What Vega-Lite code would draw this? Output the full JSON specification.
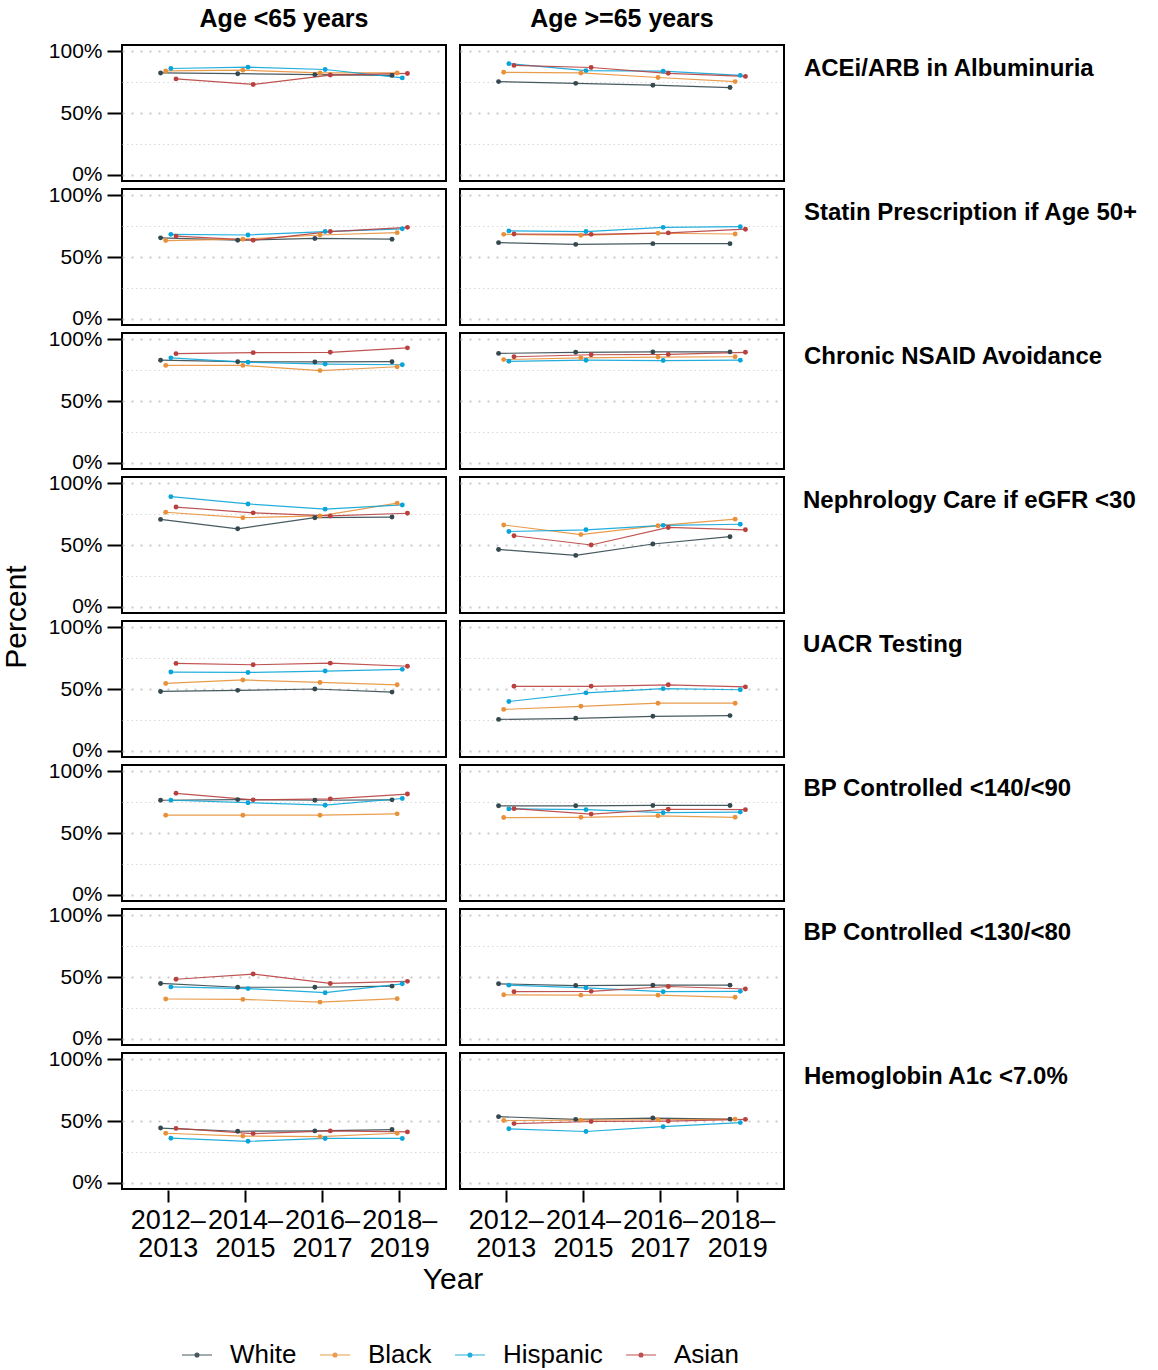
{
  "$schema": "https://vega.github.io/schema/vega-lite/v6.json",
  "padding": {"left": 2, "top": 7, "right": 0, "bottom": 0},
  "background": "white",
  "config": {
    "font": "Liberation Sans",
    "view": {"stroke": "black", "strokeWidth": 2},
    "axis": {"labelColor": "black", "titleColor": "black", "titleFontWeight": "normal"}
  },
  "data": {"values": [
{"measure":"ACEi/ARB in Albuminuria","age":"Age <65 years","race":"White","period":"2012–2013","pct":82.4},
{"measure":"ACEi/ARB in Albuminuria","age":"Age <65 years","race":"White","period":"2014–2015","pct":81.8},
{"measure":"ACEi/ARB in Albuminuria","age":"Age <65 years","race":"White","period":"2016–2017","pct":81.0},
{"measure":"ACEi/ARB in Albuminuria","age":"Age <65 years","race":"White","period":"2018–2019","pct":80.4},
{"measure":"ACEi/ARB in Albuminuria","age":"Age <65 years","race":"Black","period":"2012–2013","pct":84.0},
{"measure":"ACEi/ARB in Albuminuria","age":"Age <65 years","race":"Black","period":"2014–2015","pct":84.6},
{"measure":"ACEi/ARB in Albuminuria","age":"Age <65 years","race":"Black","period":"2016–2017","pct":82.4},
{"measure":"ACEi/ARB in Albuminuria","age":"Age <65 years","race":"Black","period":"2018–2019","pct":82.4},
{"measure":"ACEi/ARB in Albuminuria","age":"Age <65 years","race":"Hispanic","period":"2012–2013","pct":86.0},
{"measure":"ACEi/ARB in Albuminuria","age":"Age <65 years","race":"Hispanic","period":"2014–2015","pct":87.1},
{"measure":"ACEi/ARB in Albuminuria","age":"Age <65 years","race":"Hispanic","period":"2016–2017","pct":85.2},
{"measure":"ACEi/ARB in Albuminuria","age":"Age <65 years","race":"Hispanic","period":"2018–2019","pct":78.4},
{"measure":"ACEi/ARB in Albuminuria","age":"Age <65 years","race":"Asian","period":"2012–2013","pct":77.6},
{"measure":"ACEi/ARB in Albuminuria","age":"Age <65 years","race":"Asian","period":"2014–2015","pct":73.1},
{"measure":"ACEi/ARB in Albuminuria","age":"Age <65 years","race":"Asian","period":"2016–2017","pct":80.7},
{"measure":"ACEi/ARB in Albuminuria","age":"Age <65 years","race":"Asian","period":"2018–2019","pct":82.0},
{"measure":"ACEi/ARB in Albuminuria","age":"Age >=65 years","race":"White","period":"2012–2013","pct":75.4},
{"measure":"ACEi/ARB in Albuminuria","age":"Age >=65 years","race":"White","period":"2014–2015","pct":74.0},
{"measure":"ACEi/ARB in Albuminuria","age":"Age >=65 years","race":"White","period":"2016–2017","pct":72.5},
{"measure":"ACEi/ARB in Albuminuria","age":"Age >=65 years","race":"White","period":"2018–2019","pct":70.6},
{"measure":"ACEi/ARB in Albuminuria","age":"Age >=65 years","race":"Black","period":"2012–2013","pct":82.9},
{"measure":"ACEi/ARB in Albuminuria","age":"Age >=65 years","race":"Black","period":"2014–2015","pct":82.4},
{"measure":"ACEi/ARB in Albuminuria","age":"Age >=65 years","race":"Black","period":"2016–2017","pct":78.7},
{"measure":"ACEi/ARB in Albuminuria","age":"Age >=65 years","race":"Black","period":"2018–2019","pct":75.4},
{"measure":"ACEi/ARB in Albuminuria","age":"Age >=65 years","race":"Hispanic","period":"2012–2013","pct":89.9},
{"measure":"ACEi/ARB in Albuminuria","age":"Age >=65 years","race":"Hispanic","period":"2014–2015","pct":84.3},
{"measure":"ACEi/ARB in Albuminuria","age":"Age >=65 years","race":"Hispanic","period":"2016–2017","pct":83.8},
{"measure":"ACEi/ARB in Albuminuria","age":"Age >=65 years","race":"Hispanic","period":"2018–2019","pct":80.4},
{"measure":"ACEi/ARB in Albuminuria","age":"Age >=65 years","race":"Asian","period":"2012–2013","pct":88.5},
{"measure":"ACEi/ARB in Albuminuria","age":"Age >=65 years","race":"Asian","period":"2014–2015","pct":86.8},
{"measure":"ACEi/ARB in Albuminuria","age":"Age >=65 years","race":"Asian","period":"2016–2017","pct":82.1},
{"measure":"ACEi/ARB in Albuminuria","age":"Age >=65 years","race":"Asian","period":"2018–2019","pct":79.6},
{"measure":"Statin Prescription if Age 50+","age":"Age <65 years","race":"White","period":"2012–2013","pct":65.5},
{"measure":"Statin Prescription if Age 50+","age":"Age <65 years","race":"White","period":"2014–2015","pct":63.6},
{"measure":"Statin Prescription if Age 50+","age":"Age <65 years","race":"White","period":"2016–2017","pct":65.0},
{"measure":"Statin Prescription if Age 50+","age":"Age <65 years","race":"White","period":"2018–2019","pct":64.4},
{"measure":"Statin Prescription if Age 50+","age":"Age <65 years","race":"Black","period":"2012–2013","pct":63.3},
{"measure":"Statin Prescription if Age 50+","age":"Age <65 years","race":"Black","period":"2014–2015","pct":64.4},
{"measure":"Statin Prescription if Age 50+","age":"Age <65 years","race":"Black","period":"2016–2017","pct":67.8},
{"measure":"Statin Prescription if Age 50+","age":"Age <65 years","race":"Black","period":"2018–2019","pct":69.7},
{"measure":"Statin Prescription if Age 50+","age":"Age <65 years","race":"Hispanic","period":"2012–2013","pct":68.3},
{"measure":"Statin Prescription if Age 50+","age":"Age <65 years","race":"Hispanic","period":"2014–2015","pct":67.8},
{"measure":"Statin Prescription if Age 50+","age":"Age <65 years","race":"Hispanic","period":"2016–2017","pct":70.6},
{"measure":"Statin Prescription if Age 50+","age":"Age <65 years","race":"Hispanic","period":"2018–2019","pct":72.8},
{"measure":"Statin Prescription if Age 50+","age":"Age <65 years","race":"Asian","period":"2012–2013","pct":66.9},
{"measure":"Statin Prescription if Age 50+","age":"Age <65 years","race":"Asian","period":"2014–2015","pct":63.6},
{"measure":"Statin Prescription if Age 50+","age":"Age <65 years","race":"Asian","period":"2016–2017","pct":70.6},
{"measure":"Statin Prescription if Age 50+","age":"Age <65 years","race":"Asian","period":"2018–2019","pct":74.0},
{"measure":"Statin Prescription if Age 50+","age":"Age >=65 years","race":"White","period":"2012–2013","pct":61.6},
{"measure":"Statin Prescription if Age 50+","age":"Age >=65 years","race":"White","period":"2014–2015","pct":60.2},
{"measure":"Statin Prescription if Age 50+","age":"Age >=65 years","race":"White","period":"2016–2017","pct":60.8},
{"measure":"Statin Prescription if Age 50+","age":"Age >=65 years","race":"White","period":"2018–2019","pct":60.8},
{"measure":"Statin Prescription if Age 50+","age":"Age >=65 years","race":"Black","period":"2012–2013","pct":68.3},
{"measure":"Statin Prescription if Age 50+","age":"Age >=65 years","race":"Black","period":"2014–2015","pct":67.5},
{"measure":"Statin Prescription if Age 50+","age":"Age >=65 years","race":"Black","period":"2016–2017","pct":69.2},
{"measure":"Statin Prescription if Age 50+","age":"Age >=65 years","race":"Black","period":"2018–2019","pct":68.6},
{"measure":"Statin Prescription if Age 50+","age":"Age >=65 years","race":"Hispanic","period":"2012–2013","pct":71.1},
{"measure":"Statin Prescription if Age 50+","age":"Age >=65 years","race":"Hispanic","period":"2014–2015","pct":70.6},
{"measure":"Statin Prescription if Age 50+","age":"Age >=65 years","race":"Hispanic","period":"2016–2017","pct":74.0},
{"measure":"Statin Prescription if Age 50+","age":"Age >=65 years","race":"Hispanic","period":"2018–2019","pct":74.5},
{"measure":"Statin Prescription if Age 50+","age":"Age >=65 years","race":"Asian","period":"2012–2013","pct":68.6},
{"measure":"Statin Prescription if Age 50+","age":"Age >=65 years","race":"Asian","period":"2014–2015","pct":68.3},
{"measure":"Statin Prescription if Age 50+","age":"Age >=65 years","race":"Asian","period":"2016–2017","pct":69.5},
{"measure":"Statin Prescription if Age 50+","age":"Age >=65 years","race":"Asian","period":"2018–2019","pct":72.5},
{"measure":"Chronic NSAID Avoidance","age":"Age <65 years","race":"White","period":"2012–2013","pct":83.0},
{"measure":"Chronic NSAID Avoidance","age":"Age <65 years","race":"White","period":"2014–2015","pct":81.8},
{"measure":"Chronic NSAID Avoidance","age":"Age <65 years","race":"White","period":"2016–2017","pct":81.6},
{"measure":"Chronic NSAID Avoidance","age":"Age <65 years","race":"White","period":"2018–2019","pct":81.8},
{"measure":"Chronic NSAID Avoidance","age":"Age <65 years","race":"Black","period":"2012–2013","pct":78.8},
{"measure":"Chronic NSAID Avoidance","age":"Age <65 years","race":"Black","period":"2014–2015","pct":78.8},
{"measure":"Chronic NSAID Avoidance","age":"Age <65 years","race":"Black","period":"2016–2017","pct":74.6},
{"measure":"Chronic NSAID Avoidance","age":"Age <65 years","race":"Black","period":"2018–2019","pct":77.7},
{"measure":"Chronic NSAID Avoidance","age":"Age <65 years","race":"Hispanic","period":"2012–2013","pct":84.9},
{"measure":"Chronic NSAID Avoidance","age":"Age <65 years","race":"Hispanic","period":"2014–2015","pct":81.3},
{"measure":"Chronic NSAID Avoidance","age":"Age <65 years","race":"Hispanic","period":"2016–2017","pct":79.9},
{"measure":"Chronic NSAID Avoidance","age":"Age <65 years","race":"Hispanic","period":"2018–2019","pct":79.3},
{"measure":"Chronic NSAID Avoidance","age":"Age <65 years","race":"Asian","period":"2012–2013","pct":88.3},
{"measure":"Chronic NSAID Avoidance","age":"Age <65 years","race":"Asian","period":"2014–2015","pct":89.1},
{"measure":"Chronic NSAID Avoidance","age":"Age <65 years","race":"Asian","period":"2016–2017","pct":89.4},
{"measure":"Chronic NSAID Avoidance","age":"Age <65 years","race":"Asian","period":"2018–2019","pct":93.0},
{"measure":"Chronic NSAID Avoidance","age":"Age >=65 years","race":"White","period":"2012–2013","pct":88.5},
{"measure":"Chronic NSAID Avoidance","age":"Age >=65 years","race":"White","period":"2014–2015","pct":89.4},
{"measure":"Chronic NSAID Avoidance","age":"Age >=65 years","race":"White","period":"2016–2017","pct":89.7},
{"measure":"Chronic NSAID Avoidance","age":"Age >=65 years","race":"White","period":"2018–2019","pct":89.7},
{"measure":"Chronic NSAID Avoidance","age":"Age >=65 years","race":"Black","period":"2012–2013","pct":83.5},
{"measure":"Chronic NSAID Avoidance","age":"Age >=65 years","race":"Black","period":"2014–2015","pct":84.9},
{"measure":"Chronic NSAID Avoidance","age":"Age >=65 years","race":"Black","period":"2016–2017","pct":85.5},
{"measure":"Chronic NSAID Avoidance","age":"Age >=65 years","race":"Black","period":"2018–2019","pct":85.8},
{"measure":"Chronic NSAID Avoidance","age":"Age >=65 years","race":"Hispanic","period":"2012–2013","pct":82.1},
{"measure":"Chronic NSAID Avoidance","age":"Age >=65 years","race":"Hispanic","period":"2014–2015","pct":83.0},
{"measure":"Chronic NSAID Avoidance","age":"Age >=65 years","race":"Hispanic","period":"2016–2017","pct":82.7},
{"measure":"Chronic NSAID Avoidance","age":"Age >=65 years","race":"Hispanic","period":"2018–2019","pct":83.0},
{"measure":"Chronic NSAID Avoidance","age":"Age >=65 years","race":"Asian","period":"2012–2013","pct":85.8},
{"measure":"Chronic NSAID Avoidance","age":"Age >=65 years","race":"Asian","period":"2014–2015","pct":87.4},
{"measure":"Chronic NSAID Avoidance","age":"Age >=65 years","race":"Asian","period":"2016–2017","pct":87.7},
{"measure":"Chronic NSAID Avoidance","age":"Age >=65 years","race":"Asian","period":"2018–2019","pct":89.4},
{"measure":"Nephrology Care if eGFR <30","age":"Age <65 years","race":"White","period":"2012–2013","pct":70.7},
{"measure":"Nephrology Care if eGFR <30","age":"Age <65 years","race":"White","period":"2014–2015","pct":63.1},
{"measure":"Nephrology Care if eGFR <30","age":"Age <65 years","race":"White","period":"2016–2017","pct":72.1},
{"measure":"Nephrology Care if eGFR <30","age":"Age <65 years","race":"White","period":"2018–2019","pct":72.6},
{"measure":"Nephrology Care if eGFR <30","age":"Age <65 years","race":"Black","period":"2012–2013","pct":76.5},
{"measure":"Nephrology Care if eGFR <30","age":"Age <65 years","race":"Black","period":"2014–2015","pct":72.1},
{"measure":"Nephrology Care if eGFR <30","age":"Age <65 years","race":"Black","period":"2016–2017","pct":73.5},
{"measure":"Nephrology Care if eGFR <30","age":"Age <65 years","race":"Black","period":"2018–2019","pct":83.8},
{"measure":"Nephrology Care if eGFR <30","age":"Age <65 years","race":"Hispanic","period":"2012–2013","pct":89.1},
{"measure":"Nephrology Care if eGFR <30","age":"Age <65 years","race":"Hispanic","period":"2014–2015","pct":83.2},
{"measure":"Nephrology Care if eGFR <30","age":"Age <65 years","race":"Hispanic","period":"2016–2017","pct":79.0},
{"measure":"Nephrology Care if eGFR <30","age":"Age <65 years","race":"Hispanic","period":"2018–2019","pct":82.4},
{"measure":"Nephrology Care if eGFR <30","age":"Age <65 years","race":"Asian","period":"2012–2013","pct":80.7},
{"measure":"Nephrology Care if eGFR <30","age":"Age <65 years","race":"Asian","period":"2014–2015","pct":76.0},
{"measure":"Nephrology Care if eGFR <30","age":"Age <65 years","race":"Asian","period":"2016–2017","pct":73.5},
{"measure":"Nephrology Care if eGFR <30","age":"Age <65 years","race":"Asian","period":"2018–2019","pct":75.7},
{"measure":"Nephrology Care if eGFR <30","age":"Age >=65 years","race":"White","period":"2012–2013","pct":46.4},
{"measure":"Nephrology Care if eGFR <30","age":"Age >=65 years","race":"White","period":"2014–2015","pct":41.6},
{"measure":"Nephrology Care if eGFR <30","age":"Age >=65 years","race":"White","period":"2016–2017","pct":50.8},
{"measure":"Nephrology Care if eGFR <30","age":"Age >=65 years","race":"White","period":"2018–2019","pct":56.7},
{"measure":"Nephrology Care if eGFR <30","age":"Age >=65 years","race":"Black","period":"2012–2013","pct":66.2},
{"measure":"Nephrology Care if eGFR <30","age":"Age >=65 years","race":"Black","period":"2014–2015","pct":58.4},
{"measure":"Nephrology Care if eGFR <30","age":"Age >=65 years","race":"Black","period":"2016–2017","pct":65.6},
{"measure":"Nephrology Care if eGFR <30","age":"Age >=65 years","race":"Black","period":"2018–2019","pct":70.9},
{"measure":"Nephrology Care if eGFR <30","age":"Age >=65 years","race":"Hispanic","period":"2012–2013","pct":60.9},
{"measure":"Nephrology Care if eGFR <30","age":"Age >=65 years","race":"Hispanic","period":"2014–2015","pct":62.3},
{"measure":"Nephrology Care if eGFR <30","age":"Age >=65 years","race":"Hispanic","period":"2016–2017","pct":65.9},
{"measure":"Nephrology Care if eGFR <30","age":"Age >=65 years","race":"Hispanic","period":"2018–2019","pct":66.8},
{"measure":"Nephrology Care if eGFR <30","age":"Age >=65 years","race":"Asian","period":"2012–2013","pct":57.5},
{"measure":"Nephrology Care if eGFR <30","age":"Age >=65 years","race":"Asian","period":"2014–2015","pct":50.0},
{"measure":"Nephrology Care if eGFR <30","age":"Age >=65 years","race":"Asian","period":"2016–2017","pct":64.2},
{"measure":"Nephrology Care if eGFR <30","age":"Age >=65 years","race":"Asian","period":"2018–2019","pct":62.3},
{"measure":"UACR Testing","age":"Age <65 years","race":"White","period":"2012–2013","pct":48.0},
{"measure":"UACR Testing","age":"Age <65 years","race":"White","period":"2014–2015","pct":48.9},
{"measure":"UACR Testing","age":"Age <65 years","race":"White","period":"2016–2017","pct":50.0},
{"measure":"UACR Testing","age":"Age <65 years","race":"White","period":"2018–2019","pct":47.5},
{"measure":"UACR Testing","age":"Age <65 years","race":"Black","period":"2012–2013","pct":54.5},
{"measure":"UACR Testing","age":"Age <65 years","race":"Black","period":"2014–2015","pct":57.3},
{"measure":"UACR Testing","age":"Age <65 years","race":"Black","period":"2016–2017","pct":55.3},
{"measure":"UACR Testing","age":"Age <65 years","race":"Black","period":"2018–2019","pct":53.4},
{"measure":"UACR Testing","age":"Age <65 years","race":"Hispanic","period":"2012–2013","pct":63.7},
{"measure":"UACR Testing","age":"Age <65 years","race":"Hispanic","period":"2014–2015","pct":63.4},
{"measure":"UACR Testing","age":"Age <65 years","race":"Hispanic","period":"2016–2017","pct":64.5},
{"measure":"UACR Testing","age":"Age <65 years","race":"Hispanic","period":"2018–2019","pct":65.9},
{"measure":"UACR Testing","age":"Age <65 years","race":"Asian","period":"2012–2013","pct":70.7},
{"measure":"UACR Testing","age":"Age <65 years","race":"Asian","period":"2014–2015","pct":69.6},
{"measure":"UACR Testing","age":"Age <65 years","race":"Asian","period":"2016–2017","pct":70.9},
{"measure":"UACR Testing","age":"Age <65 years","race":"Asian","period":"2018–2019","pct":68.4},
{"measure":"UACR Testing","age":"Age >=65 years","race":"White","period":"2012–2013","pct":25.4},
{"measure":"UACR Testing","age":"Age >=65 years","race":"White","period":"2014–2015","pct":26.3},
{"measure":"UACR Testing","age":"Age >=65 years","race":"White","period":"2016–2017","pct":27.9},
{"measure":"UACR Testing","age":"Age >=65 years","race":"White","period":"2018–2019","pct":28.5},
{"measure":"UACR Testing","age":"Age >=65 years","race":"Black","period":"2012–2013","pct":33.5},
{"measure":"UACR Testing","age":"Age >=65 years","race":"Black","period":"2014–2015","pct":36.0},
{"measure":"UACR Testing","age":"Age >=65 years","race":"Black","period":"2016–2017","pct":38.5},
{"measure":"UACR Testing","age":"Age >=65 years","race":"Black","period":"2018–2019","pct":38.5},
{"measure":"UACR Testing","age":"Age >=65 years","race":"Hispanic","period":"2012–2013","pct":39.9},
{"measure":"UACR Testing","age":"Age >=65 years","race":"Hispanic","period":"2014–2015","pct":46.9},
{"measure":"UACR Testing","age":"Age >=65 years","race":"Hispanic","period":"2016–2017","pct":50.3},
{"measure":"UACR Testing","age":"Age >=65 years","race":"Hispanic","period":"2018–2019","pct":49.4},
{"measure":"UACR Testing","age":"Age >=65 years","race":"Asian","period":"2012–2013","pct":52.2},
{"measure":"UACR Testing","age":"Age >=65 years","race":"Asian","period":"2014–2015","pct":52.2},
{"measure":"UACR Testing","age":"Age >=65 years","race":"Asian","period":"2016–2017","pct":53.4},
{"measure":"UACR Testing","age":"Age >=65 years","race":"Asian","period":"2018–2019","pct":51.7},
{"measure":"BP Controlled <140/<90","age":"Age <65 years","race":"White","period":"2012–2013","pct":76.5},
{"measure":"BP Controlled <140/<90","age":"Age <65 years","race":"White","period":"2014–2015","pct":77.0},
{"measure":"BP Controlled <140/<90","age":"Age <65 years","race":"White","period":"2016–2017","pct":76.5},
{"measure":"BP Controlled <140/<90","age":"Age <65 years","race":"White","period":"2018–2019","pct":76.8},
{"measure":"BP Controlled <140/<90","age":"Age <65 years","race":"Black","period":"2012–2013","pct":64.4},
{"measure":"BP Controlled <140/<90","age":"Age <65 years","race":"Black","period":"2014–2015","pct":64.4},
{"measure":"BP Controlled <140/<90","age":"Age <65 years","race":"Black","period":"2016–2017","pct":64.4},
{"measure":"BP Controlled <140/<90","age":"Age <65 years","race":"Black","period":"2018–2019","pct":65.5},
{"measure":"BP Controlled <140/<90","age":"Age <65 years","race":"Hispanic","period":"2012–2013","pct":76.5},
{"measure":"BP Controlled <140/<90","age":"Age <65 years","race":"Hispanic","period":"2014–2015","pct":74.5},
{"measure":"BP Controlled <140/<90","age":"Age <65 years","race":"Hispanic","period":"2016–2017","pct":72.5},
{"measure":"BP Controlled <140/<90","age":"Age <65 years","race":"Hispanic","period":"2018–2019","pct":77.9},
{"measure":"BP Controlled <140/<90","age":"Age <65 years","race":"Asian","period":"2012–2013","pct":82.1},
{"measure":"BP Controlled <140/<90","age":"Age <65 years","race":"Asian","period":"2014–2015","pct":76.8},
{"measure":"BP Controlled <140/<90","age":"Age <65 years","race":"Asian","period":"2016–2017","pct":77.6},
{"measure":"BP Controlled <140/<90","age":"Age <65 years","race":"Asian","period":"2018–2019","pct":81.5},
{"measure":"BP Controlled <140/<90","age":"Age >=65 years","race":"White","period":"2012–2013","pct":72.0},
{"measure":"BP Controlled <140/<90","age":"Age >=65 years","race":"White","period":"2014–2015","pct":72.0},
{"measure":"BP Controlled <140/<90","age":"Age >=65 years","race":"White","period":"2016–2017","pct":72.3},
{"measure":"BP Controlled <140/<90","age":"Age >=65 years","race":"White","period":"2018–2019","pct":72.3},
{"measure":"BP Controlled <140/<90","age":"Age >=65 years","race":"Black","period":"2012–2013","pct":62.5},
{"measure":"BP Controlled <140/<90","age":"Age >=65 years","race":"Black","period":"2014–2015","pct":62.7},
{"measure":"BP Controlled <140/<90","age":"Age >=65 years","race":"Black","period":"2016–2017","pct":63.9},
{"measure":"BP Controlled <140/<90","age":"Age >=65 years","race":"Black","period":"2018–2019","pct":62.7},
{"measure":"BP Controlled <140/<90","age":"Age >=65 years","race":"Hispanic","period":"2012–2013","pct":69.5},
{"measure":"BP Controlled <140/<90","age":"Age >=65 years","race":"Hispanic","period":"2014–2015","pct":68.9},
{"measure":"BP Controlled <140/<90","age":"Age >=65 years","race":"Hispanic","period":"2016–2017","pct":66.4},
{"measure":"BP Controlled <140/<90","age":"Age >=65 years","race":"Hispanic","period":"2018–2019","pct":66.9},
{"measure":"BP Controlled <140/<90","age":"Age >=65 years","race":"Asian","period":"2012–2013","pct":69.7},
{"measure":"BP Controlled <140/<90","age":"Age >=65 years","race":"Asian","period":"2014–2015","pct":65.3},
{"measure":"BP Controlled <140/<90","age":"Age >=65 years","race":"Asian","period":"2016–2017","pct":69.2},
{"measure":"BP Controlled <140/<90","age":"Age >=65 years","race":"Asian","period":"2018–2019","pct":68.9},
{"measure":"BP Controlled <130/<80","age":"Age <65 years","race":"White","period":"2012–2013","pct":44.8},
{"measure":"BP Controlled <130/<80","age":"Age <65 years","race":"White","period":"2014–2015","pct":41.7},
{"measure":"BP Controlled <130/<80","age":"Age <65 years","race":"White","period":"2016–2017","pct":41.7},
{"measure":"BP Controlled <130/<80","age":"Age <65 years","race":"White","period":"2018–2019","pct":42.6},
{"measure":"BP Controlled <130/<80","age":"Age <65 years","race":"Black","period":"2012–2013","pct":32.2},
{"measure":"BP Controlled <130/<80","age":"Age <65 years","race":"Black","period":"2014–2015","pct":31.9},
{"measure":"BP Controlled <130/<80","age":"Age <65 years","race":"Black","period":"2016–2017","pct":29.7},
{"measure":"BP Controlled <130/<80","age":"Age <65 years","race":"Black","period":"2018–2019","pct":32.5},
{"measure":"BP Controlled <130/<80","age":"Age <65 years","race":"Hispanic","period":"2012–2013","pct":42.0},
{"measure":"BP Controlled <130/<80","age":"Age <65 years","race":"Hispanic","period":"2014–2015","pct":40.6},
{"measure":"BP Controlled <130/<80","age":"Age <65 years","race":"Hispanic","period":"2016–2017","pct":37.3},
{"measure":"BP Controlled <130/<80","age":"Age <65 years","race":"Hispanic","period":"2018–2019","pct":44.5},
{"measure":"BP Controlled <130/<80","age":"Age <65 years","race":"Asian","period":"2012–2013","pct":48.2},
{"measure":"BP Controlled <130/<80","age":"Age <65 years","race":"Asian","period":"2014–2015","pct":52.4},
{"measure":"BP Controlled <130/<80","age":"Age <65 years","race":"Asian","period":"2016–2017","pct":44.8},
{"measure":"BP Controlled <130/<80","age":"Age <65 years","race":"Asian","period":"2018–2019","pct":46.5},
{"measure":"BP Controlled <130/<80","age":"Age >=65 years","race":"White","period":"2012–2013","pct":44.5},
{"measure":"BP Controlled <130/<80","age":"Age >=65 years","race":"White","period":"2014–2015","pct":43.1},
{"measure":"BP Controlled <130/<80","age":"Age >=65 years","race":"White","period":"2016–2017","pct":43.4},
{"measure":"BP Controlled <130/<80","age":"Age >=65 years","race":"White","period":"2018–2019","pct":43.4},
{"measure":"BP Controlled <130/<80","age":"Age >=65 years","race":"Black","period":"2012–2013","pct":35.6},
{"measure":"BP Controlled <130/<80","age":"Age >=65 years","race":"Black","period":"2014–2015","pct":35.3},
{"measure":"BP Controlled <130/<80","age":"Age >=65 years","race":"Black","period":"2016–2017","pct":35.3},
{"measure":"BP Controlled <130/<80","age":"Age >=65 years","race":"Black","period":"2018–2019","pct":33.6},
{"measure":"BP Controlled <130/<80","age":"Age >=65 years","race":"Hispanic","period":"2012–2013","pct":43.4},
{"measure":"BP Controlled <130/<80","age":"Age >=65 years","race":"Hispanic","period":"2014–2015","pct":41.2},
{"measure":"BP Controlled <130/<80","age":"Age >=65 years","race":"Hispanic","period":"2016–2017","pct":38.1},
{"measure":"BP Controlled <130/<80","age":"Age >=65 years","race":"Hispanic","period":"2018–2019","pct":38.4},
{"measure":"BP Controlled <130/<80","age":"Age >=65 years","race":"Asian","period":"2012–2013","pct":38.1},
{"measure":"BP Controlled <130/<80","age":"Age >=65 years","race":"Asian","period":"2014–2015","pct":38.4},
{"measure":"BP Controlled <130/<80","age":"Age >=65 years","race":"Asian","period":"2016–2017","pct":42.3},
{"measure":"BP Controlled <130/<80","age":"Age >=65 years","race":"Asian","period":"2018–2019","pct":40.3},
{"measure":"Hemoglobin A1c <7.0%","age":"Age <65 years","race":"White","period":"2012–2013","pct":44.3},
{"measure":"Hemoglobin A1c <7.0%","age":"Age <65 years","race":"White","period":"2014–2015","pct":41.7},
{"measure":"Hemoglobin A1c <7.0%","age":"Age <65 years","race":"White","period":"2016–2017","pct":42.0},
{"measure":"Hemoglobin A1c <7.0%","age":"Age <65 years","race":"White","period":"2018–2019","pct":43.1},
{"measure":"Hemoglobin A1c <7.0%","age":"Age <65 years","race":"Black","period":"2012–2013","pct":40.1},
{"measure":"Hemoglobin A1c <7.0%","age":"Age <65 years","race":"Black","period":"2014–2015","pct":37.8},
{"measure":"Hemoglobin A1c <7.0%","age":"Age <65 years","race":"Black","period":"2016–2017","pct":37.3},
{"measure":"Hemoglobin A1c <7.0%","age":"Age <65 years","race":"Black","period":"2018–2019","pct":40.1},
{"measure":"Hemoglobin A1c <7.0%","age":"Age <65 years","race":"Hispanic","period":"2012–2013","pct":36.1},
{"measure":"Hemoglobin A1c <7.0%","age":"Age <65 years","race":"Hispanic","period":"2014–2015","pct":33.6},
{"measure":"Hemoglobin A1c <7.0%","age":"Age <65 years","race":"Hispanic","period":"2016–2017","pct":35.9},
{"measure":"Hemoglobin A1c <7.0%","age":"Age <65 years","race":"Hispanic","period":"2018–2019","pct":35.9},
{"measure":"Hemoglobin A1c <7.0%","age":"Age <65 years","race":"Asian","period":"2012–2013","pct":44.0},
{"measure":"Hemoglobin A1c <7.0%","age":"Age <65 years","race":"Asian","period":"2014–2015","pct":39.8},
{"measure":"Hemoglobin A1c <7.0%","age":"Age <65 years","race":"Asian","period":"2016–2017","pct":42.0},
{"measure":"Hemoglobin A1c <7.0%","age":"Age <65 years","race":"Asian","period":"2018–2019","pct":41.2},
{"measure":"Hemoglobin A1c <7.0%","age":"Age >=65 years","race":"White","period":"2012–2013","pct":53.5},
{"measure":"Hemoglobin A1c <7.0%","age":"Age >=65 years","race":"White","period":"2014–2015","pct":51.3},
{"measure":"Hemoglobin A1c <7.0%","age":"Age >=65 years","race":"White","period":"2016–2017","pct":52.4},
{"measure":"Hemoglobin A1c <7.0%","age":"Age >=65 years","race":"White","period":"2018–2019","pct":51.5},
{"measure":"Hemoglobin A1c <7.0%","age":"Age >=65 years","race":"Black","period":"2012–2013","pct":50.4},
{"measure":"Hemoglobin A1c <7.0%","age":"Age >=65 years","race":"Black","period":"2014–2015","pct":50.7},
{"measure":"Hemoglobin A1c <7.0%","age":"Age >=65 years","race":"Black","period":"2016–2017","pct":51.0},
{"measure":"Hemoglobin A1c <7.0%","age":"Age >=65 years","race":"Black","period":"2018–2019","pct":51.5},
{"measure":"Hemoglobin A1c <7.0%","age":"Age >=65 years","race":"Hispanic","period":"2012–2013","pct":43.7},
{"measure":"Hemoglobin A1c <7.0%","age":"Age >=65 years","race":"Hispanic","period":"2014–2015","pct":41.5},
{"measure":"Hemoglobin A1c <7.0%","age":"Age >=65 years","race":"Hispanic","period":"2016–2017","pct":45.4},
{"measure":"Hemoglobin A1c <7.0%","age":"Age >=65 years","race":"Hispanic","period":"2018–2019","pct":48.7},
{"measure":"Hemoglobin A1c <7.0%","age":"Age >=65 years","race":"Asian","period":"2012–2013","pct":47.9},
{"measure":"Hemoglobin A1c <7.0%","age":"Age >=65 years","race":"Asian","period":"2014–2015","pct":49.6},
{"measure":"Hemoglobin A1c <7.0%","age":"Age >=65 years","race":"Asian","period":"2016–2017","pct":49.9},
{"measure":"Hemoglobin A1c <7.0%","age":"Age >=65 years","race":"Asian","period":"2018–2019","pct":51.3}
  ]},
  "facet": {
    "row": {
      "field": "measure", "type": "nominal", "title": "Percent",
      "sort": ["ACEi/ARB in Albuminuria", "Statin Prescription if Age 50+", "Chronic NSAID Avoidance", "Nephrology Care if eGFR <30", "UACR Testing", "BP Controlled <140/<90", "BP Controlled <130/<80", "Hemoglobin A1c <7.0%"],
      "header": {"titleOrient": "left", "titleFontSize": 30, "titleFontWeight": "normal", "titleColor": "black", "titlePadding": 6,
                 "labelOrient": "right", "labelAngle": 0, "labelAlign": "right", "labelAnchor": "start", "labelBaseline": "line-top", "labelLineHeight": 48, "labelFontSize": 24, "labelFontWeight": "bold", "labelColor": "black", "labelPadding": 18}
    },
    "column": {
      "field": "age", "type": "nominal", "title": "Year",
      "sort": ["Age <65 years", "Age >=65 years"],
      "header": {"titleOrient": "bottom", "titleFontSize": 30, "titleFontWeight": "normal", "titleColor": "black", "titlePadding": -6,
                 "labelOrient": "top", "labelFontSize": 25, "labelFontWeight": "bold", "labelColor": "black", "labelPadding": 12}
    }
  },
  "spacing": {"row": 6, "column": 12},
  "spec": {
    "width": 324,
    "height": 136,
    "encoding": {
      "x": {
        "field": "period", "type": "ordinal",
        "sort": ["2012–2013", "2014–2015", "2016–2017", "2018–2019"],
        "scale": {"type": "band", "paddingInner": 0.8, "paddingOuter": 0.5},
        "axis": {"title": null, "labelFontSize": 27, "labelLineHeight": 28, "labelAngle": 0, "labelPadding": 5, "labelExpr": "[slice(datum.value, 0, 5), slice(datum.value, 5)]", "tickSize": 12, "tickWidth": 2, "tickColor": "black", "domain": false, "grid": false}
      },
      "xOffset": {
        "field": "race", "type": "nominal",
        "sort": ["White", "Black", "Hispanic", "Asian"],
        "scale": {"paddingInner": 0, "paddingOuter": 0}
      },
      "y": {
        "field": "pct", "type": "quantitative",
        "scale": {"domain": [-5, 105], "nice": false, "zero": false},
        "axis": {
          "title": null,
          "values": [0, 25, 50, 75, 100],
          "labelExpr": "datum.value % 50 == 0 ? datum.value + '%' : ''",
          "labelFontSize": 21, "labelPadding": 5,
          "tickSize": 14, "tickWidth": 2,
          "tickColor": {"condition": {"test": "datum.value % 50 == 0", "value": "black"}, "value": "transparent"},
          "domain": false,
          "grid": true,
          "gridColor": {"condition": {"test": "datum.value % 50 == 0", "value": "#c9c9c9"}, "value": "#d9d9d9"},
          "gridDash": {"condition": {"test": "datum.value % 50 == 0", "value": [2, 7]}, "value": [1.5, 3]},
          "gridWidth": {"condition": {"test": "datum.value % 50 == 0", "value": 2}, "value": 1}
        }
      },
      "color": {
        "field": "race", "type": "nominal",
        "sort": ["White", "Black", "Hispanic", "Asian"],
        "scale": {"domain": ["White", "Black", "Hispanic", "Asian"], "range": ["#34484f", "#e8913a", "#0aa5d8", "#b8403e"]}
      }
    },
    "layer": [
      {
        "mark": {"type": "line", "strokeWidth": 1.2, "opacity": 0.9},
        "encoding": {
          "detail": {"field": "race", "type": "nominal"},
          "color": {
            "field": "race", "type": "nominal",
            "sort": ["White", "Black", "Hispanic", "Asian"],
            "scale": {"domain": ["White", "Black", "Hispanic", "Asian"], "range": ["#34484f", "#e8913a", "#0aa5d8", "#b8403e"]},
            "legend": {
              "title": null, "orient": "none", "direction": "horizontal", "columns": 4,
              "legendX": 59, "legendY": 1294,
              "labelFontSize": 26, "labelColor": "black", "labelOffset": 17, "columnPadding": 20,
              "symbolType": "M-1,0L1,0M0.13,0A0.13,0.13,0,1,1,-0.13,0A0.13,0.13,0,1,1,0.13,0M0.06,0A0.06,0.06,0,1,1,-0.06,0A0.06,0.06,0,1,1,0.06,0",
              "symbolSize": 900, "symbolStrokeWidth": 1.2
            }
          }
        }
      },
      {
        "mark": {"type": "circle", "size": 24, "opacity": 1},
        "encoding": {
          "color": {
            "field": "race", "type": "nominal",
            "sort": ["White", "Black", "Hispanic", "Asian"],
            "scale": {"domain": ["White", "Black", "Hispanic", "Asian"], "range": ["#34484f", "#e8913a", "#0aa5d8", "#b8403e"]},
            "legend": null
          }
        }
      }
    ]
  }
}
